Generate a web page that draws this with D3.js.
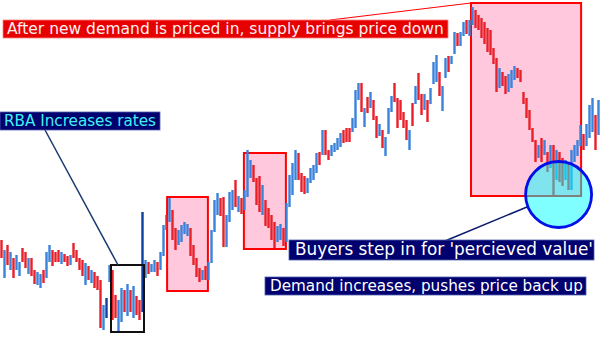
<!DOCTYPE html>
<html>
<head>
    <meta charset="utf-8">
    <title>Supply and demand after a rate hike</title>
    <script src="https://cdnjs.cloudflare.com/ajax/libs/d3/7.8.5/d3.min.js"></script>
    <style>
        body {
            margin: 0;
            background: #ffffff;
            font-family: "DejaVu Sans", Verdana, sans-serif;
        }
        #chart {
            width: 600px;
            height: 338px;
        }
    </style>
</head>
<body>
    <div id="chart"></div>

    <script>
        // price index of every bar (high / low)
        const highs = [
            98, 88, 93, 86, 80, 83, 76, 90, 86, 80,
            80, 68, 66, 64, 68, 86, 93, 88, 86, 88,
            86, 84, 82, 83, 95, 88, 80, 78, 75, 72,
            68, 66, 62, 58, 33, 40, 73, 68, 43, 38,
            50, 48, 54, 48, 52, 42, 38, 126, 78, 76,
            74, 78, 76, 86, 113, 123, 140, 128, 110, 108,
            113, 116, 114, 110, 93, 80, 70, 68, 72, 76,
            108, 138, 145, 140, 141, 123, 146, 148, 158, 142,
            140, 148, 188, 178, 173, 160, 162, 153, 138, 130,
            123, 116, 112, 114, 110, 135, 163, 175, 188, 185,
            165, 162, 160, 170, 173, 185, 186, 208, 208, 188,
            193, 195, 200, 205, 208, 210, 210, 220, 248, 255,
            255, 230, 241, 246, 238, 222, 214, 208, 201, 230,
            242, 255, 240, 238, 226, 218, 208, 235, 252, 265,
            244, 244, 238, 250, 276, 283, 266, 252, 280, 282,
            282, 306, 305, 306, 316, 318, 318, 331, 328, 323,
            320, 316, 310, 308, 290, 280, 270, 266, 262, 264,
            268, 272, 270, 268, 246, 240, 228, 210, 198, 193,
            200, 198, 186, 193, 193, 188, 186, 180, 178, 176,
            188, 193, 198, 213, 204, 214, 233, 240, 223, 238
        ];
        const lows = [
            80, 60, 73, 68, 60, 68, 62, 76, 70, 64,
            62, 54, 53, 50, 55, 60, 76, 72, 76, 76,
            74, 76, 72, 73, 80, 76, 68, 62, 53, 58,
            55, 50, 48, 10, 8, 20, 56, 18, 20, 7,
            16, 26, 22, 26, 20, 23, 18, 26, 60, 64,
            66, 66, 62, 68, 82, 108, 116, 98, 88, 93,
            96, 104, 102, 82, 73, 61, 56, 58, 58, 58,
            75, 106, 123, 122, 91, 91, 116, 128, 131, 126,
            124, 128, 141, 160, 156, 133, 126, 123, 112, 110,
            98, 90, 96, 98, 92, 96, 131, 143, 158, 158,
            146, 144, 145, 155, 158, 165, 173, 183, 183, 178,
            182, 186, 188, 191, 195, 196, 196, 206, 210, 238,
            226, 211, 225, 230, 218, 200, 202, 190, 182, 204,
            226, 236, 210, 218, 210, 198, 188, 212, 234, 238,
            223, 228, 216, 234, 254, 256, 242, 227, 260, 266,
            274, 284, 292, 292, 302, 304, 302, 313, 310, 308,
            300, 294, 286, 283, 274, 246, 250, 252, 244, 246,
            250, 258, 260, 256, 234, 220, 208, 196, 176, 180,
            176, 183, 166, 170, 143, 158, 156, 152, 158, 148,
            148, 176, 182, 192, 188, 192, 200, 206, 188, 203
        ];
        // U = closed up (blue), D = closed down (red)
        const moves = (
            "DUDUDUUDDU" + "DDUUDUUDDD" + "UDDUDDDDUD" + "UDDDUUUDDU" +
            "UDUDUDDUUD" + "UUDUUDUDDU" + "UUUDDDDUDU" + "UUUDDUUUDU" +
            "DUUUDDDUDD" + "DDUUDUUUUD" + "DDUUUUDUDD" + "UUUUDDDUUU" +
            "DUDUDDUDUU" + "UDDDDDUDUD" + "DUDUUUDUUD" + "UUDUUDUUDD" +
            "DDDDDDUDDU" + "UUDDDDDDDU" + "DUDUDUDDUD" + "UUUUDUUUDU"
        ).split("");
        const strongBars = [35, 47];

        // shaded zones: bar index range and price range
        const zoneStart = [55.2, 80.8, 156.5];
        const zoneEnd = [68.8, 94.8, 193.2];
        const zoneTop = [141, 185, 335];
        const zoneBottom = [47, 89, 142];

        // the rate-hike box
        const hikeBox = { start: 36.5, end: 47.5, top: 73, bottom: 6 };
        // the "perceived value" circle
        const valueZone = { bar: 185.7, price: 143.5 };

        const labels = [
            "After new demand is priced in, supply brings price down",
            "RBA Increases rates",
            "Buyers step in for 'percieved value'",
            "Demand increases, pushes price back up"
        ];

        const width = 600;
        const height = 338;

        const svg = d3.select("#chart")
            .append("svg")
            .attr("width", width)
            .attr("height", height);

        const x = d3.scaleLinear().domain([0, highs.length - 1]).range([1.5, 598.5]);
        const y = d3.scaleLinear().domain([0, 338]).range([height, 0]);

        // pink zones
        svg.append("g")
            .selectAll("rect")
            .data(zoneStart)
            .join("rect")
            .attr("x", d => x(d))
            .attr("y", (d, i) => y(zoneTop[i]))
            .attr("width", (d, i) => x(zoneEnd[i]) - x(d))
            .attr("height", (d, i) => y(zoneBottom[i]) - y(zoneTop[i]))
            .attr("fill", "#ffc8dc")
            .attr("stroke", "#ff0000")
            .attr("stroke-width", 2);

        // price bars
        svg.append("g")
            .selectAll("rect")
            .data(highs)
            .join("rect")
            .attr("x", (d, i) => x(i) - 1.2)
            .attr("y", d => y(d))
            .attr("width", 2.4)
            .attr("height", (d, i) => y(lows[i]) - y(d))
            .attr("fill", (d, i) => {
                if (strongBars.includes(i)) return "#0f3f9c";
                return moves[i] === "U" ? "#3a82da" : "#e8202a";
            });

        // rate hike box
        svg.append("rect")
            .attr("x", x(hikeBox.start))
            .attr("y", y(hikeBox.top))
            .attr("width", x(hikeBox.end) - x(hikeBox.start))
            .attr("height", y(hikeBox.bottom) - y(hikeBox.top))
            .attr("fill", "none")
            .attr("stroke", "#111")
            .attr("stroke-width", 2);

        // value circle
        svg.append("circle")
            .attr("cx", x(valueZone.bar))
            .attr("cy", y(valueZone.price))
            .attr("r", 33)
            .attr("fill", "#00ffff")
            .attr("fill-opacity", 0.5)
            .attr("stroke", "#0010e8")
            .attr("stroke-width", 2.8);

        // leader lines
        const leaders = [
            { x1: 330, y1: 20, x2: x(zoneStart[2]), y2: y(zoneTop[2]), c: "#ff0000", w: 1 },
            { x1: 45, y1: 130, x2: x(hikeBox.start) + 7, y2: y(hikeBox.top), c: "#16386e", w: 1.5 },
            { x1: 445, y1: 241, x2: 527, y2: 207, c: "#0a1a70", w: 1.5 }
        ];
        svg.append("g")
            .selectAll("line")
            .data(leaders)
            .join("line")
            .attr("x1", d => d.x1)
            .attr("y1", d => d.y1)
            .attr("x2", d => d.x2)
            .attr("y2", d => d.y2)
            .attr("stroke", d => d.c)
            .attr("stroke-width", d => d.w);

        // label boxes: box, text start, text width, baseline
        const boxes = [
            { x: 3, y: 20, w: 445, h: 18, tx: 7, tw: 437, base: 34, fill: "#e60000", stroke: "#ff8080", text: "#fff0f0" },
            { x: 0, y: 112, w: 160, h: 18, tx: 4, tw: 152, base: 126, fill: "#00006e", stroke: "#5060b0", text: "#40f0f0" },
            { x: 289, y: 240, w: 305, h: 20, tx: 295, tw: 298, base: 255, fill: "#00006e", stroke: "#5060b0", text: "#ffffff" },
            { x: 265, y: 277, w: 321, h: 18, tx: 270, tw: 313, base: 291, fill: "#00006e", stroke: "#5060b0", text: "#ffffff" }
        ];

        const tags = svg.append("g")
            .selectAll("g")
            .data(boxes)
            .join("g");

        tags.append("rect")
            .attr("x", d => d.x)
            .attr("y", d => d.y)
            .attr("width", d => d.w)
            .attr("height", d => d.h)
            .attr("fill", d => d.fill)
            .attr("stroke", d => d.stroke)
            .attr("stroke-width", 0.8);

        tags.append("text")
            .attr("x", d => d.tx)
            .attr("y", d => d.base)
            .attr("fill", d => d.text)
            .attr("font-size", 14)
            .text((d, i) => labels[i])
            .each(function (d) {
                // shrink or grow the font so the label fills its box like the original
                const len = this.getComputedTextLength();
                this.setAttribute("font-size", (14 * d.tw / len).toFixed(2));
            });
    </script>
</body>
</html>
